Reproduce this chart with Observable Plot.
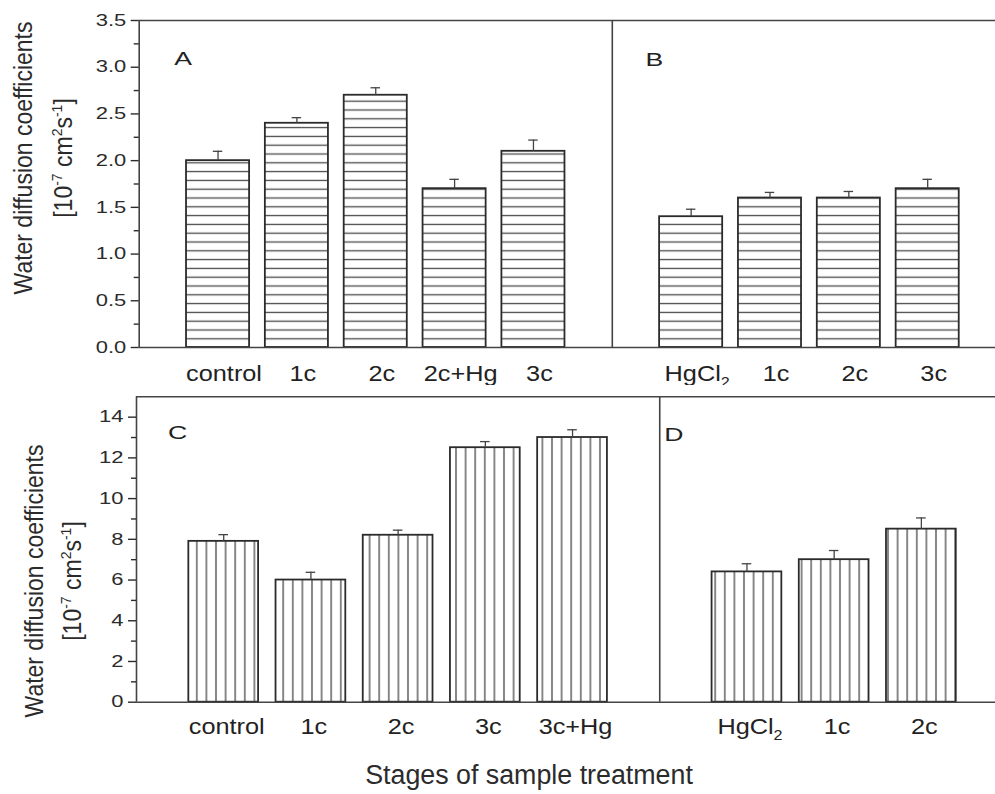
<!DOCTYPE html>
<html>
<head>
<meta charset="utf-8">
<script src="https://cdn.jsdelivr.net/npm/d3@7"></script>
<script src="https://cdn.jsdelivr.net/npm/@observablehq/plot@0.6"></script>
<style>
  body { margin: 0; background: #fff; font-family: "Liberation Sans", Arial, sans-serif; }
  #wrap { position: relative; width: 995px; height: 794px; overflow: hidden; }
  #topPanel { position: absolute; left: 0; top: 0; }
  #botPanel { position: absolute; left: 0; top: 385px; }
</style>
</head>
<body>
<div id="wrap"><div id="topPanel"></div><div id="botPanel"></div></div>
<script>
// ---- data ----
const catsA = ["control", "1c", "2c", "2c+Hg", "3c"];
const valsA = [2.0, 2.4, 2.7, 1.7, 2.1];
const errA  = [0.10, 0.06, 0.08, 0.10, 0.12];

const catsB = ["HgCl₂", "1c", "2c", "3c"];
const valsB = [1.4, 1.6, 1.6, 1.7];
const errB  = [0.08, 0.06, 0.07, 0.10];

const catsC = ["control", "1c", "2c", "3c", "3c+Hg"];
const valsC = [7.9, 6.0, 8.2, 12.5, 13.0];
const errC  = [0.33, 0.38, 0.25, 0.30, 0.38];

const catsD = ["HgCl₂", "1c", "2c"];
const valsD = [6.4, 7.0, 8.5];
const errD  = [0.40, 0.45, 0.55];

const yTicksTop = [0, 0.5, 1.0, 1.5, 2.0, 2.5, 3.0, 3.5];
const yMinorTop = [0.25, 0.75, 1.25, 1.75, 2.25, 2.75, 3.25];
const yTicksBottom = [0, 2, 4, 6, 8, 10, 12, 14];
const yMinorBottom = [1, 3, 5, 7, 9, 11, 13];

const lettersTop = ["A", "B"];
const lettersBottom = ["C", "D"];
const yLabel = "Water diffusion coefficients";
const yUnit = [["[10", 0], ["-7", 1], [" cm", 0], ["2", 1], ["s", 0], ["-1", 1], ["]", 0]];
const xTitle = "Stages of sample treatment";

// font sizes used to pick texts for horizontal stretching
const FS_TICK = 16.4, FS_CAT = 22, FS_LETTER = 19;

// ---- helpers ----
function buildRows(lc, lv, le, rc, rv, re) {
  const rows = [];
  lc.forEach((c, i) => rows.push({cat: c, pos: i + 1, v: lv[i], e: le[i]}));
  const div = lc.length + 1;
  rc.forEach((c, i) => rows.push({cat: c, pos: div + 1 + i, v: rv[i], e: re[i]}));
  return {rows, div};
}

function panel(o) {
  const {rows, div} = o;
  return Plot.plot({
    width: 995, height: o.height,
    marginTop: o.mt, marginBottom: o.mb, marginLeft: o.ml, marginRight: 0,
    x: {domain: [0, o.xMax], axis: null},
    y: {domain: [0, o.yMax], axis: null, label: null},
    style: {fontFamily: "Liberation Sans, Arial, sans-serif", fontSize: "16px", color: "#2b2b2b", background: "white", overflow: "visible"},
    marks: [
      Plot.rect(rows, {x1: d => d.pos - 0.4, x2: d => d.pos + 0.4, y1: 0, y2: "v",
        fill: `url(#${o.pattern})`, stroke: "#2b2b2b", strokeWidth: 1.8}),
      Plot.ruleX(rows, {x: "pos", y1: "v", y2: d => d.v + d.e, stroke: "#444", strokeWidth: 1.3}),
      Plot.ruleY(rows, {y: d => d.v + d.e, x1: d => d.pos - o.cap, x2: d => d.pos + o.cap, stroke: "#444", strokeWidth: 1.3}),
      Plot.ruleX([0, div], {y1: 0, y2: o.yMax, stroke: "#444", strokeWidth: 1.6}),
      Plot.ruleY([0, o.yMax], {x1: 0, x2: o.xMax, stroke: "#444", strokeWidth: 1.6}),
      Plot.axisY(o.ticks, {tickSize: 8, tickPadding: o.tickPad, tickFormat: o.fmt, fontSize: FS_TICK, label: null, strokeWidth: 1.4, fill: "#2b2b2b"}),
      Plot.axisY(o.minor, {tickSize: 5, tickFormat: () => "", label: null, strokeWidth: 1.4}),
      Plot.text(rows, {x: "pos", y: 0, text: "cat", dx: o.labelDx, dy: o.labelDy, lineAnchor: "bottom",
        fontSize: FS_CAT, fill: "#222"}),
      Plot.text([{x: 0, t: o.letters[0]}], {x: "x", y: () => o.yMax, text: "t",
        dx: o.letterDx[0], dy: o.letterDy[0], lineAnchor: "bottom", fontSize: FS_LETTER, fill: "#222"}),
      Plot.text([{x: div, t: o.letters[1]}], {x: "x", y: () => o.yMax, text: "t",
        dx: o.letterDx[1], dy: o.letterDy[1], lineAnchor: "bottom", fontSize: FS_LETTER, fill: "#222"})
    ]
  });
}

function addPattern(svg, id, vertical, period) {
  const defs = svg.insert("defs", ":first-child");
  const p = defs.append("pattern").attr("id", id).attr("patternUnits", "userSpaceOnUse")
    .attr("width", vertical ? period : 10).attr("height", vertical ? 10 : period);
  p.append("rect").attr("width", vertical ? period : 10).attr("height", vertical ? 10 : period).attr("fill", "white");
  if (vertical) p.append("line").attr("x1", period / 2).attr("x2", period / 2).attr("y1", 0).attr("y2", 10).attr("stroke", "#4a4a4a").attr("stroke-width", 1.3);
  else p.append("line").attr("x1", 0).attr("x2", 10).attr("y1", period / 2).attr("y2", period / 2).attr("stroke", "#4a4a4a").attr("stroke-width", 1.3);
}

function stretchBySize(svg, size, k) {
  svg.selectAll("text").each(function () {
    const fs = parseFloat(getComputedStyle(this).fontSize);
    if (Math.abs(fs - size) > 0.15) return;
    let t = this.getAttribute("transform") || "";
    const x = this.getAttribute("x");
    if (x != null && isFinite(+x)) {
      t += ` translate(${+x},0)`;
      this.removeAttribute("x");
    }
    this.setAttribute("transform", t + ` scale(${k},1)`);
  });
}

function subscripts(svg) {
  svg.selectAll("text").each(function () {
    const s = this.textContent;
    if (s.includes("₂")) {
      const el = d3.select(this);
      el.text(s.replace("₂", ""));
      el.append("tspan").attr("font-size", 14).attr("dy", 6).text("2");
    }
  });
}

function addYLabel(svg, x1, x2, cy) {
  svg.append("text").attr("transform", `translate(${x1},${cy}) rotate(-90) scale(1,1.1)`)
    .attr("text-anchor", "middle").attr("font-size", 23).attr("fill", "#2b2b2b").text(yLabel);
  const t = svg.append("text").attr("transform", `translate(${x2},${cy}) rotate(-90) scale(1,1.1)`)
    .attr("text-anchor", "middle").attr("font-size", 23).attr("fill", "#2b2b2b");
  let prevSup = 0;
  yUnit.forEach(([s, sup]) => {
    const ts = t.append("tspan").text(s);
    if (sup) ts.attr("font-size", 14);
    const dy = (sup ? -9 : 0) - (prevSup ? -9 : 0);
    if (dy) ts.attr("dy", dy);
    prevSup = sup;
  });
}

function finish(chart, pattern, vertical, period) {
  const svg = d3.select(chart);
  addPattern(svg, pattern, vertical, period);
  subscripts(svg);
  stretchBySize(svg, FS_TICK, 1.34);
  stretchBySize(svg, FS_CAT, 1.15);
  stretchBySize(svg, FS_LETTER, 1.4);
  return svg;
}

// ---- top ----
const topData = buildRows(catsA, valsA, errA, catsB, valsB, errB);
const topChart = panel({
  ...topData, height: 385, mt: 20, mb: 38, ml: 138.7, xMax: 10.86, yMax: 3.5,
  ticks: yTicksTop, minor: yMinorTop, fmt: d3.format(".1f"), tickPad: 5,
  pattern: "hatchH", cap: 0.06, labelDx: 6, labelDy: 33,
  letters: lettersTop, letterDx: [44, 42], letterDy: [44, 45]
});
document.getElementById("topPanel").appendChild(topChart);
{
  const svg = finish(topChart, "hatchH", false, 8.8);
  addYLabel(svg, 32, 72, 158);
}

// ---- bottom ----
const botData = buildRows(catsC, valsC, errC, catsD, valsD, errD);
const botChart = panel({
  ...botData, height: 409, mt: 11.3, mb: 92.3, ml: 136, xMax: 9.85, yMax: 15,
  ticks: yTicksBottom, minor: yMinorBottom, fmt: d3.format("d"), tickPad: 5,
  pattern: "hatchV", cap: 0.055, labelDx: 3, labelDy: 32,
  letters: lettersBottom, letterDx: [41, 14], letterDy: [42, 44]
});
document.getElementById("botPanel").appendChild(botChart);
{
  const svg = finish(botChart, "hatchV", true, 9.6);
  addYLabel(svg, 43, 81, 196);
  svg.append("text").attr("x", 529).attr("y", 399).attr("text-anchor", "middle")
    .attr("font-size", 26.8).attr("fill", "#2b2b2b").text(xTitle);
}
</script>
</body>
</html>
